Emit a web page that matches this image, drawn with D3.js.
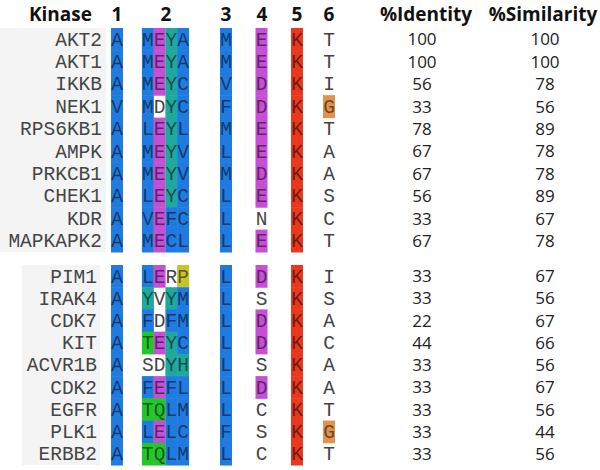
<!DOCTYPE html>
<html><head><meta charset="utf-8">
<script src="https://cdn.jsdelivr.net/npm/d3@7"></script>
<style>html,body{margin:0;padding:0;background:#fff;}svg{display:block;}</style>
</head><body>
<svg id="chart" width="600" height="470"></svg>
<script>
// ---- data ----
const kinasesTop = ["AKT2","AKT1","IKKB","NEK1","RPS6KB1","AMPK","PRKCB1","CHEK1","KDR","MAPKAPK2"];
const residuesTop = ["AMEYAMEKT","AMEYAMEKT","AMEYCVDKI","VMDYCFDKG","ALEYLMEKT","AMEYVLEKA","AMEYVMDKA","ALEYCLEKS","AVEFCLNKC","AMECLLEKT"];
const classesTop  = ["bbmtbbmr-","bbmtbbmr-","bbmtbbmr-","bb-tbbmro","bbmtbbmr-","bbmtbbmr-","bbmtbbmr-","bbmtbbmr-","bbmbbb-r-","bbmbbbmr-"];
const identityTop   = [100,100,56,33,78,67,67,56,33,67];
const similarityTop = [100,100,78,56,89,78,78,89,67,78];

const kinasesBottom = ["PIM1","IRAK4","CDK7","KIT","ACVR1B","CDK2","EGFR","PLK1","ERBB2"];
const residuesBottom = ["ALERPLDKI","AYVYMLSKS","AFDFMLDKA","ATEYCLDKC","ASDYHLSKA","AFEFLLDKA","ATQLMLCKT","ALELCFSKG","ATQLMLCKT"];
const classesBottom  = ["bbm-ybmr-","bt-tbb-r-","bb-bbbmr-","bgmtbbmr-","b--ttb-r-","bbmbbbmr-","bggbbb-r-","bbmbbb-ro","bggbbb-r-"];
const identityBottom   = [33,33,22,44,33,33,33,33,33];
const similarityBottom = [67,56,67,66,56,67,56,44,56];

const positionLabels = ["1","2","3","4","5","6"];
const classCodes = ["b","m","t","r","g","y","o"];

// ---- drawing ----
const svg = d3.select("#chart");
const colorScale = d3.scaleOrdinal().domain(classCodes)
  .range(["#1f7be0","#c64fd6","#1fa99c","#e8391f","#22c62a","#c6c42a","#e0924e"]);

const xRes = d3.scaleOrdinal().domain(d3.range(9))
  .range([117,147.9,159.6,171.4,183.1,226,261.5,297,329]);
const cellW = 12;
const xPos = d3.scaleOrdinal().domain(positionLabels).range([117,166,226,262,297,329]);

const yTop = d3.scaleBand().domain(kinasesTop).range([28,252]);
const yBot = d3.scaleBand().domain(kinasesBottom).range([265,465]);

const monoFont = "'Courier New','Liberation Mono',monospace";
const sansFont = "'Open Sans','Noto Sans',sans-serif";

// header
const header = svg.append("g").attr("font-family", sansFont).attr("font-weight","bold")
  .attr("font-size", 19).attr("fill","#111").attr("text-anchor","middle");
header.append("text").attr("x", 92).attr("y", 21).attr("text-anchor","end").text("Kinase");
header.selectAll("text.pos").data(positionLabels).join("text").attr("class","pos")
  .attr("x", d => xPos(d)).attr("y", 21).text(d => d);
header.append("text").attr("x", 426).attr("y", 21).text("%Identity");
header.append("text").attr("x", 543).attr("y", 21).text("%Similarity");

function drawSection(kin, res, cls, ident, sim, y, bgX0, bgX1, nameRight) {
  const g = svg.append("g");
  const r = y.range();
  g.append("rect").attr("x", bgX0).attr("y", r[0]).attr("width", bgX1 - bgX0)
    .attr("height", r[1] - r[0]).attr("fill", "#f4f4f4");
  const rows = kin.map((k, i) => ({k, res: res[i], cls: cls[i], id: ident[i], sim: sim[i]}));
  const cells = [];
  rows.forEach(row => {
    for (let j = 0; j < 9; j++) cells.push({k: row.k, j, aa: row.res[j], c: row.cls[j]});
  });
  g.selectAll("rect.cell").data(cells.filter(d => d.c !== "-")).join("rect")
    .attr("class","cell")
    .attr("x", d => xRes(d.j) - cellW/2).attr("y", d => y(d.k))
    .attr("width", cellW).attr("height", y.bandwidth() + 0.5)
    .attr("fill", d => colorScale(d.c));
  g.selectAll("text.aa").data(cells).join("text").attr("class","aa")
    .attr("x", d => xRes(d.j)).attr("y", d => y(d.k) + y.bandwidth()/2)
    .attr("dy","0.33em").attr("text-anchor","middle")
    .attr("font-family", monoFont).attr("font-size", 19.5)
    .attr("fill", d => d.c === "-" ? "#444" : "#000")
    .attr("fill-opacity", d => d.c === "-" ? 1 : 0.55)
    .text(d => d.aa);
  g.selectAll("text.name").data(rows).join("text").attr("class","name")
    .attr("x", nameRight).attr("y", d => y(d.k) + y.bandwidth()/2)
    .attr("dy","0.33em").attr("text-anchor","end")
    .attr("font-family", monoFont).attr("font-size", 19.5).attr("fill", "#454545")
    .text(d => d.k);
  g.selectAll("text.id").data(rows).join("text").attr("class","id")
    .attr("x", 422).attr("y", d => y(d.k) + y.bandwidth()/2).attr("dy","0.36em")
    .attr("text-anchor","middle").attr("font-family", sansFont).attr("font-size", 17)
    .attr("fill","#222").text(d => d.id);
  g.selectAll("text.sim").data(rows).join("text").attr("class","sim")
    .attr("x", 545).attr("y", d => y(d.k) + y.bandwidth()/2).attr("dy","0.36em")
    .attr("text-anchor","middle").attr("font-family", sansFont).attr("font-size", 17)
    .attr("fill","#222").text(d => d.sim);
}

drawSection(kinasesTop, residuesTop, classesTop, identityTop, similarityTop, yTop, 0, 106, 102);
drawSection(kinasesBottom, residuesBottom, classesBottom, identityBottom, similarityBottom, yBot, 22, 100, 97);
</script>
</body></html>
